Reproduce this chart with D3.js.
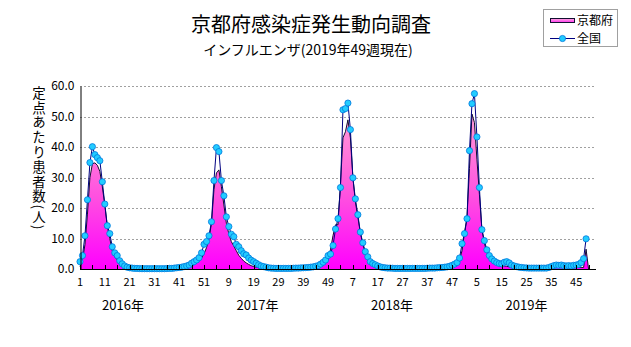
<!DOCTYPE html>
<html><head><meta charset="utf-8">
<script src="https://cdn.jsdelivr.net/npm/d3@7"></script>
<style>
html,body{margin:0;padding:0;background:#fff;}
svg{display:block;font-family:"Noto Sans CJK JP","Noto Sans",sans-serif;}
</style></head>
<body>
<svg id="chart" width="631" height="347"></svg>
<script>
// ---- data ----
const titleText = "京都府感染症発生動向調査";
const subtitleText = "インフルエンザ(2019年49週現在)";
const yAxisTitle = "定点あたり患者数(人)";
const years = ["2016年", "2017年", "2018年", "2019年"];
const weeksInYear = [52, 52, 52, 53];
const xTickLabels = [1, 11, 21, 31, 41, 51, 9, 19, 29, 39, 49, 7, 17, 27, 37, 47, 5, 15, 25, 35, 45];
const yTicks = [0, 10, 20, 30, 40, 50, 60];
const seriesNames = ["京都府", "全国"];

// 全国 (national), 2016w1 .. 2019w49
const national2016 = [2.4, 4.4, 10.9, 22.7, 34.9, 40.1, 37.5, 36.5, 35.5, 28.6, 21.3, 14.2, 11.6, 7.3, 5.3, 4.4, 2.7, 1.7, 1.0, 0.6,
  0.4, 0.3, 0.2, 0.2, 0.15, 0.1, 0.1, 0.1, 0.1, 0.1, 0.1, 0.1, 0.1, 0.1, 0.1, 0.15, 0.2, 0.2, 0.3, 0.4,
  0.5, 0.6, 0.8, 1.0, 1.3, 1.9, 2.4, 2.95, 3.7, 5.3, 8.1, 9.0];
const national2017 = [10.9, 15.5, 29.0, 39.8, 38.5, 29.0, 24.0, 17.1, 13.9, 11.4, 10.6, 8.1, 7.3, 6.0, 5.0, 4.6, 3.6, 2.9, 2.4, 1.9,
  1.4, 1.0, 0.8, 0.6, 0.4, 0.3, 0.25, 0.2, 0.2, 0.2, 0.2, 0.2, 0.2, 0.2, 0.25, 0.3, 0.3, 0.35, 0.4, 0.45,
  0.5, 0.6, 0.7, 0.9, 1.1, 1.6, 2.2, 2.95, 4.4, 4.9, 7.7, 13.1];
const national2018 = [16.5, 26.7, 52.2, 52.6, 54.4, 45.7, 29.9, 23.0, 17.8, 12.1, 8.6, 5.7, 4.0, 2.4, 1.8, 1.4, 1.0, 0.7, 0.5, 0.4,
  0.3, 0.3, 0.25, 0.2, 0.2, 0.2, 0.2, 0.2, 0.2, 0.2, 0.2, 0.2, 0.2, 0.2, 0.2, 0.2, 0.25, 0.3, 0.3, 0.3,
  0.4, 0.45, 0.5, 0.6, 0.7, 0.9, 1.2, 1.6, 2.1, 3.6, 8.3, 11.6];
const national2019 = [16.5, 38.8, 54.2, 57.5, 43.3, 26.7, 12.9, 9.3, 6.3, 4.4, 3.3, 2.6, 2.1, 1.8, 1.7, 2.2, 2.4, 2.0, 1.3, 1.0,
  0.8, 0.6, 0.5, 0.4, 0.35, 0.3, 0.3, 0.3, 0.3, 0.3, 0.3, 0.3, 0.3, 0.5, 0.8, 1.1, 1.3, 1.2, 1.3, 1.1,
  1.0, 1.1, 1.0, 1.2, 1.3, 1.5, 2.1, 3.4, 9.9];

// 京都府 (Kyoto)
const kyoto2016 = [0.8, 3.0, 8.0, 18.0, 30.0, 34.5, 34.8, 34.0, 32.0, 27.0, 21.0, 14.0, 10.0, 6.0, 4.0, 3.0, 2.0, 1.2, 0.7, 0.4,
  0.2, 0.1, 0.1, 0.1, 0.1, 0.1, 0.1, 0.1, 0.1, 0.1, 0.1, 0.1, 0.1, 0.1, 0.1, 0.1, 0.1, 0.1, 0.2, 0.2,
  0.3, 0.4, 0.5, 0.7, 0.9, 1.2, 1.5, 2.0, 2.5, 3.5, 5.0, 7.0];
const kyoto2017 = [10.0, 15.0, 26.0, 31.5, 32.5, 27.0, 21.0, 15.0, 11.5, 9.0, 7.5, 6.0, 4.5, 3.5, 2.6, 2.0, 1.5, 1.1, 0.8, 0.6,
  0.4, 0.3, 0.2, 0.2, 0.1, 0.1, 0.1, 0.1, 0.1, 0.1, 0.1, 0.1, 0.1, 0.1, 0.1, 0.1, 0.1, 0.1, 0.2, 0.2,
  0.2, 0.2, 0.3, 0.3, 0.5, 0.8, 1.2, 2.0, 3.0, 6.5, 11.0, 14.5];
const kyoto2018 = [14.5, 28.0, 43.0, 45.0, 48.9, 43.0, 30.0, 22.0, 17.0, 12.0, 8.0, 5.5, 3.5, 2.2, 1.5, 1.0, 0.7, 0.5, 0.3, 0.2,
  0.2, 0.1, 0.1, 0.1, 0.1, 0.1, 0.1, 0.1, 0.1, 0.1, 0.1, 0.1, 0.1, 0.1, 0.1, 0.1, 0.1, 0.1, 0.1, 0.2,
  0.2, 0.2, 0.2, 0.3, 0.3, 0.5, 0.8, 1.2, 1.5, 3.0, 6.0, 12.0];
const kyoto2019 = [17.0, 33.0, 50.8, 48.0, 36.0, 24.5, 13.0, 8.5, 5.5, 3.5, 2.5, 1.8, 1.4, 1.1, 1.0, 1.0, 0.9, 0.7, 0.5, 0.4,
  0.3, 0.3, 0.2, 0.2, 0.2, 0.2, 0.2, 0.2, 0.2, 0.2, 0.2, 0.2, 0.2, 0.3, 0.4, 0.6, 0.8, 1.0, 0.9, 1.0,
  1.1, 0.9, 0.7, 0.6, 0.6, 0.5, 0.5, 0.5, 6.5];

// ---- build ----
const national = [].concat(national2016, national2017, national2018, national2019);
const kyoto = [].concat(kyoto2016, kyoto2017, kyoto2018, kyoto2019);
const nSlots = d3.sum(weeksInYear); // category slots on the axis

const svg = d3.select("#chart");
const pL = 80, pR = 596, pT = 86, pB = 269;

const x = d3.scaleLinear().domain([0, nSlots - 1]).range([pL, pR]);
const y = d3.scaleLinear().domain([0, 60]).range([pB, pT]);

// gradient
const defs = svg.append("defs");
const grad = defs.append("linearGradient").attr("id", "pinkGrad")
  .attr("gradientUnits", "userSpaceOnUse").attr("x1", 0).attr("x2", 0)
  .attr("y1", y(52)).attr("y2", pB);
grad.append("stop").attr("offset", 0).attr("stop-color", "#ff9fd6");
grad.append("stop").attr("offset", 0.55).attr("stop-color", "#ff4fe0");
grad.append("stop").attr("offset", 1).attr("stop-color", "#ff00ff");
const lgrad = defs.append("linearGradient").attr("id", "legGrad")
  .attr("x1", 0).attr("x2", 0).attr("y1", 0).attr("y2", 1);
lgrad.append("stop").attr("offset", 0).attr("stop-color", "#ffb0e0");
lgrad.append("stop").attr("offset", 1).attr("stop-color", "#ff30f0");

// gridlines
svg.append("g").selectAll("line").data(yTicks.filter(d => d > 0)).join("line")
  .attr("x1", pL).attr("x2", pR)
  .attr("y1", d => Math.round(y(d)) + 0.5).attr("y2", d => Math.round(y(d)) + 0.5)
  .attr("stroke", "#a0a0a0").attr("stroke-dasharray", "2,2").attr("stroke-width", 1);

// Kyoto area (the slot after the last reported week is drawn at zero, as the original does)
const kyotoSlots = d3.range(nSlots).map(i => i < kyoto.length ? kyoto[i] : 0);
const area = d3.area().x((d, i) => x(i)).y0(pB).y1(d => y(d));
svg.append("path").datum(kyotoSlots.slice(0, kyoto.length + 1))
  .attr("d", area).attr("fill", "url(#pinkGrad)").attr("stroke", "none");
const kline = d3.line().x((d, i) => x(i)).y(d => y(d));
svg.append("path").datum(kyotoSlots.slice(0, kyoto.length + 1))
  .attr("d", kline).attr("fill", "none").attr("stroke", "#101030").attr("stroke-width", 1);

// national line + markers
const nline = d3.line().x((d, i) => x(i)).y(d => y(d));
svg.append("path").datum(national).attr("d", nline)
  .attr("fill", "none").attr("stroke", "#000080").attr("stroke-width", 1);
svg.append("g").selectAll("circle").data(national).join("circle")
  .attr("cx", (d, i) => x(i)).attr("cy", d => y(d)).attr("r", 3.1)
  .attr("fill", "#22ccff").attr("stroke", "#0077dd").attr("stroke-width", 0.8);

// axes
const yAxis = d3.axisLeft(y).tickValues(yTicks).tickSize(0).tickPadding(6).tickFormat(d3.format(".1f"));
const gy = svg.append("g").attr("transform", `translate(${pL + 0.5},0)`).call(yAxis);
gy.select(".domain").attr("stroke", "#000");
gy.selectAll("text").attr("font-size", 12).attr("fill", "#000")
  .attr("font-family", '"Noto Sans CJK JP",sans-serif');

const tickIdx = xTickLabels.map((d, k) => k * 10);
const minorIdx = d3.range(0, nSlots, 5);
svg.append("g").selectAll("line").data(minorIdx).join("line")
  .attr("x1", d => Math.round(x(d)) + 0.5).attr("x2", d => Math.round(x(d)) + 0.5)
  .attr("y1", pB).attr("y2", pB - 4).attr("stroke", "#000");
svg.append("line").attr("x1", pL).attr("x2", pR).attr("y1", pB + 0.5).attr("y2", pB + 0.5)
  .attr("stroke", "#000");
svg.append("g").selectAll("text").data(xTickLabels).join("text")
  .attr("x", (d, k) => x(tickIdx[k])).attr("y", pB + 17)
  .attr("text-anchor", "middle").attr("font-size", 11).text(d => d);

// year labels
svg.append("g").selectAll("text").data(years).join("text")
  .attr("x", (d, k) => 123 + k * 134.5).attr("y", pB + 41)
  .attr("text-anchor", "middle").attr("font-size", 13).text(d => d);

// y axis title (vertical)
svg.append("text").attr("x", 39).attr("y", 86)
  .style("writing-mode", "vertical-rl").style("text-orientation", "mixed")
  .style("letter-spacing", "1.3px")
  .attr("font-size", 13.5).text(yAxisTitle);

// titles
svg.append("text").attr("x", 311).attr("y", 32).attr("text-anchor", "middle")
  .attr("font-size", 20).text(titleText);
svg.append("text").attr("x", 308).attr("y", 55).attr("text-anchor", "middle")
  .attr("font-size", 14).text(subtitleText);

// legend
const lg = svg.append("g");
lg.append("rect").attr("x", 543.5).attr("y", 9.5).attr("width", 74).attr("height", 37)
  .attr("fill", "#fff").attr("stroke", "#a0a0a0");
lg.append("rect").attr("x", 550.5).attr("y", 18.5).attr("width", 24).attr("height", 4)
  .attr("fill", "url(#legGrad)").attr("stroke", "#101030");
lg.append("text").attr("x", 577).attr("y", 25).attr("font-size", 12).text(seriesNames[0]);
lg.append("line").attr("x1", 550).attr("x2", 575).attr("y1", 38.5).attr("y2", 38.5).attr("stroke", "#000080");
lg.append("circle").attr("cx", 562.5).attr("cy", 38.5).attr("r", 3.1)
  .attr("fill", "#22ccff").attr("stroke", "#0077dd").attr("stroke-width", 0.8);
lg.append("text").attr("x", 577).attr("y", 43).attr("font-size", 12).text(seriesNames[1]);
</script>
</body></html>
